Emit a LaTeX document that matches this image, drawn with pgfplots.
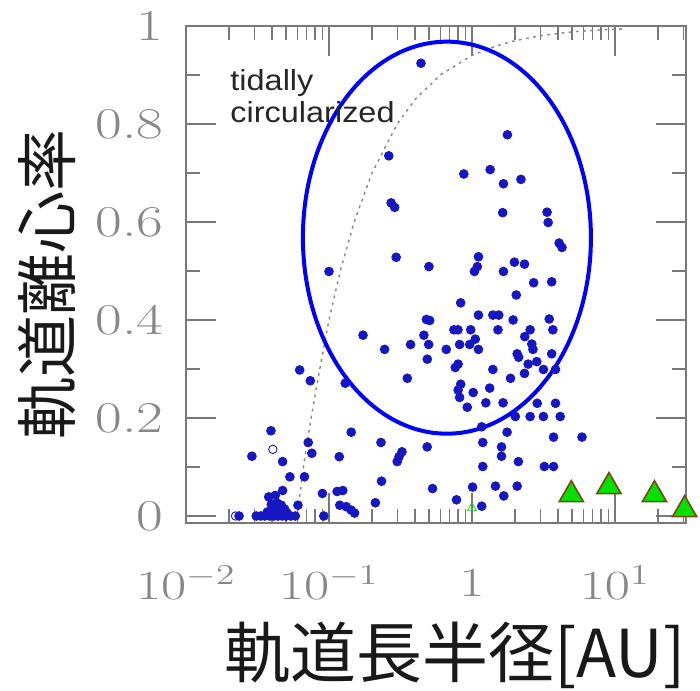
\documentclass[border=0pt]{standalone}
\usepackage{fontspec}
\usepackage{graphicx}
\usepackage{pgfplots}
\pgfplotsset{compat=1.18}
\newfontfamily\cjk{Noto Sans CJK JP}
\newfontfamily\lsans{Liberation Sans}
\definecolor{dotblue}{RGB}{22,22,195}
\definecolor{ellblue}{RGB}{0,0,255}
\definecolor{pgreen}{RGB}{0,225,0}
\definecolor{pbrown}{RGB}{125,70,20}
\definecolor{axgray}{RGB}{120,120,120}
\definecolor{lblgray}{RGB}{135,135,135}
\newcommand\sx[1]{\scalebox{1.32}[1]{#1}}
\begin{document}
\begin{tikzpicture}
\path[use as bounding box] (-93pt,-83.5pt) rectangle (257pt,261.5pt);
\begin{axis}[
  at={(0,0)}, anchor=south west,
  scale only axis, width=250pt, height=248.5pt,
  xmode=log, xmin=0.01, xmax=31.4, ymin=-0.0143, ymax=1.0,
  xtick={0.01,0.1,1,10},
  xticklabels={\sx{$10^{-2}$},\sx{$10^{-1}$},\sx{$1$},\sx{$10^{1}$}},
  minor xtick={0.02,0.03,0.04,0.05,0.06,0.07,0.08,0.09,0.2,0.3,0.4,0.5,0.6,0.7,0.8,0.9,2,3,4,5,6,7,8,9,20,30},
  ytick={0,0.2,0.4,0.6,0.8,1},
  yticklabels={\sx{0},\sx{0.2},\sx{0.4},\sx{0.6},\sx{0.8},\sx{1}},
  minor ytick={0.1,0.3,0.5,0.7,0.9},
  tick align=inside,
  major tick length=15pt, minor tick length=7pt,
  every tick/.style={axgray, line width=0.65pt},
  axis line style={axgray, line width=0.9pt},
  xticklabel style={anchor=center, yshift=-30pt, font=\fontsize{22}{26}\selectfont, text=lblgray},
  yticklabel style={anchor=east, inner sep=0pt, xshift=-11pt, font=\fontsize{22}{26}\selectfont, text=lblgray},
  xlabel={軌道長半径[AU]},
  xlabel style={at={(axis description cs:0.538,-0.2666)}, anchor=center, font=\cjk\fontsize{33}{38}\selectfont, text=black!90},
  ylabel={軌道離心率},
  ylabel style={at={(axis description cs:-0.278,0.479)}, anchor=center, font=\cjk\fontsize{31}{36}\selectfont, text=black!90},
  clip=false,
]
% tidal circularization limit
\addplot[gray!95, line width=0.7pt, dash pattern=on 1.4pt off 2.2pt] coordinates {
 (0.0605,0.01) (0.062,0.035) (0.064,0.062) (0.067,0.11) (0.075,0.20) (0.085,0.29) (0.1,0.40)
 (0.12,0.50) (0.15,0.60) (0.2,0.70) (0.3,0.80) (0.4,0.85) (0.6,0.90) (1,0.94) (1.5,0.96)
 (2,0.97) (3,0.98) (5,0.988) (8,0.992) (11.7,0.994)
};
% exoplanets
\addplot[only marks, mark=*, mark size=2.2pt, color=dotblue] table {
a e
0.44 0.924
0.262 0.735
1.77 0.778
0.877 0.698
1.34 0.707
2.20 0.687
1.66 0.678
0.272 0.639
0.288 0.630
1.64 0.619
3.35 0.620
3.41 0.599
4.07 0.557
4.26 0.548
0.295 0.528
0.50 0.509
1.11 0.529
1.09 0.509
1.04 0.499
1.98 0.518
2.33 0.514
1.66 0.499
0.100 0.499
2.70 0.476
3.61 0.478
2.04 0.451
0.834 0.435
0.173 0.369
0.48 0.401
0.506 0.399
1.11 0.410
1.40 0.410
1.54 0.410
1.94 0.400
3.47 0.402
0.748 0.380
0.798 0.380
0.98 0.380
1.52 0.380
2.55 0.380
3.68 0.380
0.461 0.369
2.34 0.366
0.245 0.340
0.372 0.350
0.498 0.350
0.661 0.340
0.82 0.350
0.964 0.350
1.055 0.361
1.11 0.340
2.62 0.351
2.67 0.340
2.07 0.331
2.12 0.324
3.61 0.331
0.487 0.320
0.80 0.310
0.764 0.303
1.40 0.299
2.47 0.310
2.84 0.315
2.33 0.291
3.16 0.299
3.84 0.299
1.86 0.281
0.353 0.281
0.130 0.271
0.0624 0.298
0.074 0.276
0.834 0.269
0.80 0.257
0.82 0.242
1.02 0.252
1.33 0.261
0.927 0.222
1.25 0.231
1.65 0.231
2.86 0.230
3.84 0.230
2.01 0.203
2.55 0.203
3.16 0.203
4.14 0.203
1.17 0.182
1.76 0.171
3.72 0.161
5.88 0.161
1.19 0.150
1.61 0.141
1.61 0.122
2.11 0.111
1.19 0.101
3.21 0.101
3.72 0.101
1.46 0.061
2.07 0.061
1.01 0.059
1.67 0.041
1.17 0.020
0.78 0.033
0.53 0.056
0.486 0.141
0.324 0.131
0.309 0.121
0.30 0.111
0.231 0.150
0.233 0.071
0.211 0.027
0.143 0.171
0.118 0.121
0.114 0.050
0.125 0.052
0.090 0.046
0.092 0.0
0.0716 0.150
0.0759 0.128
0.0674 0.080
0.0533 0.080
0.0607 0.022
0.0474 0.111
0.0393 0.174
0.0289 0.122
0.0474 0.052
0.119 0.022
0.132 0.019
0.143 0.012
0.151 0.006
0.0379 0.039
0.0421 0.042
0.0435 0.026
0.0395 0.024
0.0464 0.022
0.0412 0.016
0.0490 0.014
0.0440 0.012
0.0310 0.0
0.0333 0.0
0.0355 0.0
0.0385 0.0
0.0412 0.0
0.0440 0.0
0.0471 0.0
0.0502 0.0
0.0540 0.0
0.0581 0.0
0.0370 0.008
0.0510 0.006
0.0235 0.0
};
% open markers
\addplot[only marks, mark=o, mark size=2.1pt, color=dotblue, line width=0.45pt] table {
a e
0.0222 0.0
0.0405 0.136
};
\addplot[only marks, mark=triangle, mark size=2.5pt, color=pgreen, line width=0.4pt] coordinates {(1.0,0.017)};
% solar-system giant planets
\addplot[only marks, mark=triangle*, mark size=7pt, mark options={fill=pgreen, draw=pbrown, line width=0.8pt}] coordinates {
 (4.95,0.0435) (9.08,0.060) (18.9,0.0435) (30.7,0.013)
};
\draw[ellblue, line width=2pt] (axis cs:0.668,0.568) ellipse [x radius=72pt, y radius=98pt];
\node[anchor=north west, inner sep=0pt, font=\lsans\fontsize{14.5}{16}\selectfont, text=black!85] at (axis description cs:0.088,0.916)
  {\scalebox{1.12}[1]{\begin{tabular}{@{}l@{}}tidally\\circularized\end{tabular}}};
\end{axis}
\end{tikzpicture}
\end{document}
